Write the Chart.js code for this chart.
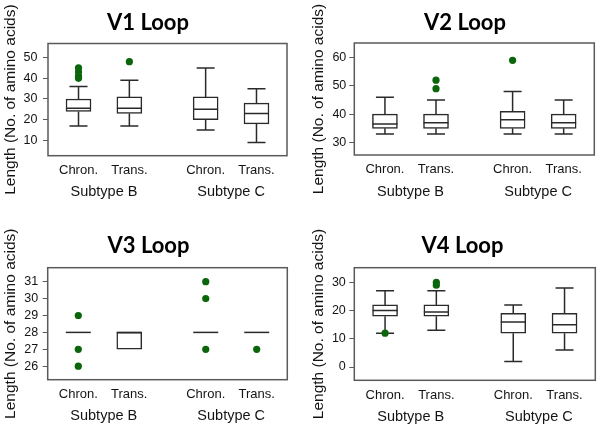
<!DOCTYPE html>
<html>
<head>
<meta charset="utf-8">
<script src="https://cdn.jsdelivr.net/npm/chart.js@4/dist/chart.umd.min.js"></script>
<style>
html,body{margin:0;padding:0;width:600px;height:428px;overflow:hidden;background:#fff;}
.panel{position:absolute;}
canvas{display:block;}
</style>
</head>
<body>
<div class="panel" style="left:0px;top:0px"><canvas id="c1" width="296" height="214" style="width:296px;height:214px"></canvas></div>
<div class="panel" style="left:300px;top:0px"><canvas id="c2" width="330" height="214" style="width:330px;height:214px"></canvas></div>
<div class="panel" style="left:0px;top:223px"><canvas id="c3" width="297" height="205" style="width:297px;height:205px"></canvas></div>
<div class="panel" style="left:300px;top:223px"><canvas id="c4" width="325" height="205" style="width:325px;height:205px"></canvas></div>
<script>
// ---------- data ----------
const categories = ['Chron.', 'Trans.', 'Chron.', 'Trans.'];
const subtypes = ['Subtype B', 'Subtype C'];
const catPos = [1, 2, 3.5, 4.5];
const subtypePos = [1.5, 4];
const yAxisTitle = 'Length (No. of amino acids)';

// V1 Loop
const v1Low    = [17, 17, 15, 9];
const v1Q1     = [24, 23, 20, 18];
const v1Median = [25.5, 25.5, 25, 23];
const v1Q3     = [30, 31, 31, 28];
const v1High   = [36, 39, 45, 35];
const v1Outliers = [[40, 41, 43, 45], [48], [], []];
const v1Ticks  = [10, 20, 30, 40, 50];

// V2 Loop
const v2Low    = [33, 33, 33, 33];
const v2Q1     = [35, 35, 35, 35];
const v2Median = [36.5, 37, 38, 37];
const v2Q3     = [40, 40, 41, 40];
const v2High   = [46, 45, 48, 45];
const v2Outliers = [[], [49, 52], [59], []];
const v2Ticks  = [30, 40, 50, 60];

// V3 Loop
const v3Low    = [28, 27, 28, 28];
const v3Q1     = [28, 27, 28, 28];
const v3Median = [28, 28, 28, 28];
const v3Q3     = [28, 28, 28, 28];
const v3High   = [28, 28, 28, 28];
const v3Outliers = [[26, 27, 29], [], [27, 30, 31], [27]];
const v3Ticks  = [26, 27, 28, 29, 30, 31];

// V4 Loop
const v4Low    = [12, 13, 2, 6];
const v4Q1     = [18, 18, 12, 12];
const v4Median = [20, 19.5, 16, 15];
const v4Q3     = [22, 22, 19, 19];
const v4High   = [27, 27, 22, 28];
const v4Outliers = [[12], [29, 30], [], []];
const v4Ticks  = [0, 10, 20, 30];

// ---------- style ----------
const LINE = '#2a2a2a';
const FRAME = '#5a5a5a';
const GREEN = '#0b650b';
const TEXT = '#141414';
const SANS = "'Liberation Sans', Arial, sans-serif";
const BOX_W = 25, CAP_W = 18;

function makePanel(id, title, s, geo) {
  const boxes = catPos.map((x, i) => ({x: x, y: [s.q1[i], s.q3[i]]}));
  const pts = [];
  s.out.forEach((arr, i) => arr.forEach(v => pts.push({x: catPos[i], y: v})));

  const whiskers = {
    id: 'whiskers',
    beforeDatasetsDraw(chart) {
      const a = chart.chartArea, ctx = chart.ctx;
      ctx.save();
      ctx.strokeStyle = FRAME; ctx.lineWidth = 1.5;
      ctx.strokeRect(a.left, a.top, a.right - a.left, a.bottom - a.top);
      ctx.restore();
    },
    afterDatasetDraw(chart, args) {
      if (args.index !== 1) return;
      const xs = chart.scales.x, ys = chart.scales.y, ctx = chart.ctx;
      ctx.save();
      ctx.strokeStyle = LINE; ctx.lineWidth = 1.5;
      catPos.forEach((xv, i) => {
        const cx = xs.getPixelForValue(xv);
        const yLow = ys.getPixelForValue(s.low[i]);
        const yQ1 = ys.getPixelForValue(s.q1[i]);
        const yQ3 = ys.getPixelForValue(s.q3[i]);
        const yHigh = ys.getPixelForValue(s.high[i]);
        const yMed = ys.getPixelForValue(s.med[i]);
        ctx.beginPath();
        if (s.high[i] > s.q3[i]) {
          ctx.moveTo(cx, yQ3); ctx.lineTo(cx, yHigh);
          ctx.moveTo(cx - CAP_W / 2, yHigh); ctx.lineTo(cx + CAP_W / 2, yHigh);
        }
        if (s.low[i] < s.q1[i]) {
          ctx.moveTo(cx, yQ1); ctx.lineTo(cx, yLow);
          ctx.moveTo(cx - CAP_W / 2, yLow); ctx.lineTo(cx + CAP_W / 2, yLow);
        }
        ctx.moveTo(cx - BOX_W / 2, yMed); ctx.lineTo(cx + BOX_W / 2, yMed);
        ctx.stroke();
      });
      ctx.restore();
    }
  };

  return new Chart(document.getElementById(id), {
    type: 'bar',
    data: {
      datasets: [
        {
          type: 'scatter',
          data: pts,
          pointRadius: 3.6,
          pointBackgroundColor: GREEN,
          pointBorderWidth: 0,
          showLine: false
        },
        {
          type: 'bar',
          data: boxes,
          barThickness: BOX_W,
          backgroundColor: '#ffffff',
          borderColor: LINE,
          borderWidth: 1.5,
          borderSkipped: false
        }
      ]
    },
    plugins: [whiskers],
    options: {
      responsive: false,
      animation: false,
      events: [],
      layout: {padding: 0},
      plugins: {
        legend: {display: false},
        tooltip: {enabled: false},
        title: {
          display: true,
          text: title,
          color: '#000',
          font: {family: "Lato, 'Liberation Sans', sans-serif", weight: 'bold', size: 22, lineHeight: 1.2},
          padding: {top: geo.tTop, bottom: geo.tBottom}
        }
      },
      scales: {
        x: {
          type: 'linear', min: 0.4, max: 5.1, offset: false, position: 'bottom', weight: 0,
          grid: {display: false, drawTicks: false, offset: false},
          border: {display: false},
          ticks: {autoSkip: false, maxRotation: 0, padding: 7, color: TEXT,
                  font: {family: SANS, size: 13},
                  callback: (v, i) => categories[i]},
          afterBuildTicks: sc => { sc.ticks = catPos.map(v => ({value: v})); },
          afterFit: sc => { sc.height = geo.x1h; }
        },
        x2: {
          type: 'linear', min: 0.4, max: 5.1, offset: false, position: 'bottom', weight: 1,
          grid: {display: false, drawTicks: false, offset: false},
          border: {display: false},
          ticks: {autoSkip: false, maxRotation: 0, padding: 7, color: TEXT,
                  font: {family: SANS, size: 14.5},
                  callback: (v, i) => subtypes[i]},
          afterBuildTicks: sc => { sc.ticks = subtypePos.map(v => ({value: v})); },
          afterFit: sc => { sc.height = geo.H - geo.bottom - geo.x1h; }
        },
        y: {
          type: 'linear', min: geo.yMin, max: geo.yMax, position: 'left', weight: 0,
          grid: {display: true, drawOnChartArea: false, drawTicks: true, tickLength: 5, color: FRAME, lineWidth: 1},
          border: {display: false},
          ticks: {padding: geo.tickPad, color: TEXT, font: {family: SANS, size: 12.5}},
          afterBuildTicks: sc => { sc.ticks = s.ticks.map(v => ({value: v})); },
          afterFit: sc => { sc.width = geo.yW; },
          title: {display: true, text: yAxisTitle, color: TEXT,
                  font: {family: SANS, size: 15.5, lineHeight: 1.2},
                  padding: {top: geo.yTitlePad, bottom: 0}}
        },
        yR: {
          type: 'linear', position: 'right', display: true,
          grid: {display: false, drawTicks: false},
          border: {display: false},
          ticks: {display: false},
          afterFit: sc => { sc.width = geo.rW; }
        }
      }
    }
  });
}

makePanel('c1', 'V1 Loop',
  {low: v1Low, q1: v1Q1, med: v1Median, q3: v1Q3, high: v1High, out: v1Outliers, ticks: v1Ticks},
  {H: 214, bottom: 155.7, x1h: 21, tTop: 9.5, tBottom: 7.6, yW: 48, rW: 9, yMin: 2.6, yMax: 56.8, tickPad: 5.5, yTitlePad: 1.2});
makePanel('c2', 'V2 Loop',
  {low: v2Low, q1: v2Q1, med: v2Median, q3: v2Q3, high: v2High, out: v2Outliers, ticks: v2Ticks},
  {H: 214, bottom: 155, x1h: 21, tTop: 9.5, tBottom: 7.1, yW: 54.3, rW: 35.7, yMin: 25.6, yMax: 65.1, tickPad: 3, yTitlePad: 9.5});
makePanel('c3', 'V3 Loop',
  {low: v3Low, q1: v3Q1, med: v3Median, q3: v3Q3, high: v3High, out: v3Outliers, ticks: v3Ticks},
  {H: 205, bottom: 156.7, x1h: 21, tTop: 9.7, tBottom: 8.6, yW: 47.7, rW: 9.7, yMin: 25.2, yMax: 31.83, tickPad: 4.5, yTitlePad: 1.2});
makePanel('c4', 'V4 Loop',
  {low: v4Low, q1: v4Q1, med: v4Median, q3: v4Q3, high: v4High, out: v4Outliers, ticks: v4Ticks},
  {H: 205, bottom: 157.3, x1h: 21, tTop: 9.7, tBottom: 8.6, yW: 54.3, rW: 29.7, yMin: -4.7, yMax: 35.2, tickPad: 3.5, yTitlePad: 9.5});
</script>
</body>
</html>
